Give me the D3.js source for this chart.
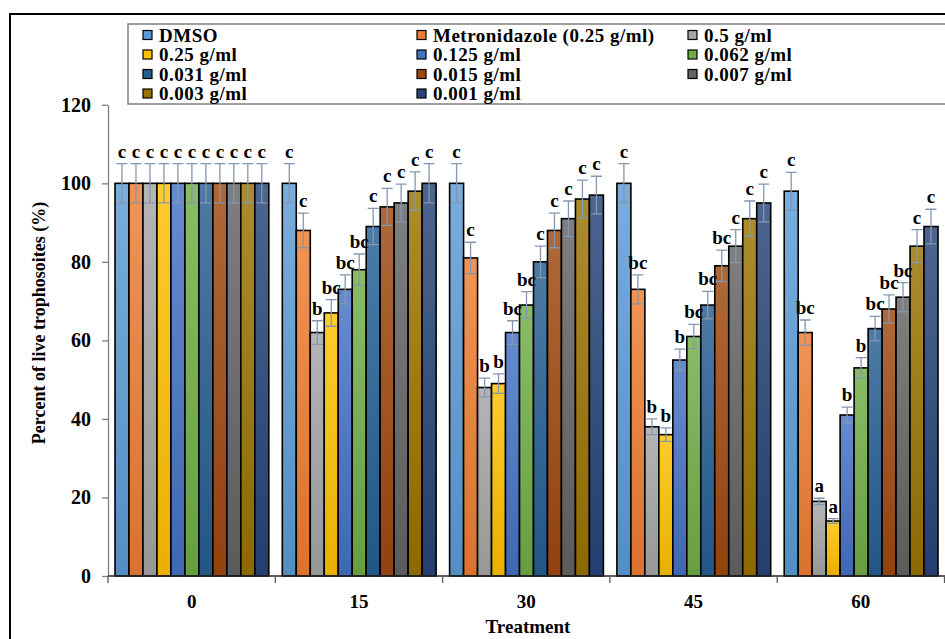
<!DOCTYPE html>
<html>
<head>
<meta charset="utf-8">
<script src="https://cdn.jsdelivr.net/npm/d3@7"></script>
<style>
  body { margin: 0; background: #fff; }
  svg { display: block; }
  text { font-family: "Liberation Serif", "Times New Roman", serif; font-weight: bold; fill: #000; }
</style>
</head>
<body>
<svg id="chart" width="945" height="639"></svg>
<script>
var categories = ["0", "15", "30", "45", "60"];
var series = ["DMSO", "Metronidazole (0.25 g/ml)", "0.5 g/ml", "0.25 g/ml", "0.125 g/ml",
  "0.062 g/ml", "0.031 g/ml", "0.015 g/ml", "0.007 g/ml", "0.003 g/ml", "0.001 g/ml"];
var colors = ["#5b9bd5", "#ed7d31", "#a5a5a5", "#ffc000", "#4472c4", "#70ad47",
  "#255e91", "#9e480e", "#636363", "#997300", "#264478"];

// one row per series, one value per treatment time
var values = [
  [100, 100, 100, 100, 98],
  [100, 88, 81, 73, 62],
  [100, 62, 48, 38, 19],
  [100, 67, 49, 36, 14],
  [100, 73, 62, 55, 41],
  [100, 78, 69, 61, 53],
  [100, 89, 80, 69, 63],
  [100, 94, 88, 79, 68],
  [100, 95, 91, 84, 71],
  [100, 98, 96, 91, 84],
  [100, 100, 97, 95, 89]
];
var errors = [
  [5, 5, 5, 5, 4.8],
  [5, 4.4, 4, 3.7, 3.2],
  [5, 3, 2.4, 2, 0.8],
  [5, 3.4, 2.5, 1.7, 0.6],
  [5, 3.7, 3, 2.8, 2],
  [5, 4, 3.4, 3.1, 2.6],
  [5, 4.6, 4, 3.5, 3.1],
  [5, 4.7, 4.4, 4, 3.6],
  [5, 4.8, 4.5, 4.2, 3.7],
  [5, 4.9, 4.8, 4.5, 4.2],
  [5, 5, 4.8, 4.8, 4.4]
];
var letters = [
  ["c", "c", "c", "c", "c"],
  ["c", "c", "c", "bc", "bc"],
  ["c", "b", "b", "b", "a"],
  ["c", "bc", "b", "b", "a"],
  ["c", "bc", "bc", "b", "b"],
  ["c", "bc", "bc", "bc", "b"],
  ["c", "c", "c", "bc", "bc"],
  ["c", "c", "c", "bc", "bc"],
  ["c", "c", "c", "c", "bc"],
  ["c", "c", "c", "c", "c"],
  ["c", "c", "c", "c", "c"]
];
var yTicks = [0, 20, 40, 60, 80, 100, 120];

var svg = d3.select("#chart");

var x0 = d3.scaleBand().domain(categories).range([108, 944.5]);
var x1 = d3.scaleBand().domain(d3.range(series.length)).range([7, x0.bandwidth() - 6.5]);
var y = d3.scaleLinear().domain([0, 120]).range([576, 104.8]);

// gradients, light at top
var defs = svg.append("defs");
colors.forEach(function(c, i) {
  var g = defs.append("linearGradient").attr("id", "g" + i)
    .attr("x1", 0).attr("y1", 0).attr("x2", 0).attr("y2", 1);
  g.append("stop").attr("offset", "0%").attr("stop-color", d3.interpolateRgb(c, "#fff")(0.18));
  g.append("stop").attr("offset", "100%").attr("stop-color", d3.color(c).darker(0.25));
});

// outer frame
svg.append("path").attr("d", "M10,639V14H945")
  .attr("fill", "none").attr("stroke", "#000").attr("stroke-width", 2);

// y axis
var yAxis = svg.append("g").attr("transform", "translate(108,0)")
  .call(d3.axisLeft(y).tickValues(yTicks).tickSize(6).tickPadding(11).tickSizeOuter(0));
yAxis.select(".domain").attr("stroke", "#7f7f7f").attr("stroke-width", 1.3);
yAxis.selectAll(".tick line").attr("stroke", "#7f7f7f").attr("stroke-width", 1.3);
yAxis.selectAll(".tick text").attr("font-size", 20)
  .style("font-family", "Liberation Serif").style("font-weight", "bold").attr("fill", "#000");

// bars
var rows = [];
series.forEach(function(s, i) {
  categories.forEach(function(c, j) {
    rows.push({ s: i, c: c, v: values[i][j], e: errors[i][j], l: letters[i][j] });
  });
});

svg.append("g").selectAll("rect").data(rows).enter().append("rect")
  .attr("x", function(d) { return x0(d.c) + x1(d.s); })
  .attr("y", function(d) { return y(d.v); })
  .attr("width", x1.bandwidth())
  .attr("height", function(d) { return y(0) - y(d.v); })
  .attr("fill", function(d) { return "url(#g" + d.s + ")"; })
  .attr("stroke", "#000").attr("stroke-width", 1.6);

// error bars
var eb = svg.append("g").attr("stroke", "#8497b0").attr("stroke-width", 1.3).attr("fill", "none");
eb.selectAll("path").data(rows).enter().append("path")
  .attr("d", function(d) {
    var cx = x0(d.c) + x1(d.s) + x1.bandwidth() / 2;
    var t = y(d.v + d.e), b = y(d.v - d.e);
    return "M" + (cx - 5.5) + "," + t + "H" + (cx + 5.5) +
      "M" + cx + "," + t + "V" + b +
      "M" + (cx - 5.5) + "," + b + "H" + (cx + 5.5);
  });

// significance letters
svg.append("g").selectAll("text").data(rows).enter().append("text")
  .attr("x", function(d) { return x0(d.c) + x1(d.s) + x1.bandwidth() / 2; })
  .attr("y", function(d) { return y(d.v + d.e) - 6; })
  .attr("text-anchor", "middle").attr("font-size", 19)
  .text(function(d) { return d.l; });

// x axis
svg.append("line").attr("x1", 108).attr("x2", 945).attr("y1", y(0)).attr("y2", y(0))
  .attr("stroke", "#262626").attr("stroke-width", 1.6);
var edges = categories.map(function(c) { return x0(c); }).concat([x0.range()[1]]);
svg.append("g").selectAll("line").data(edges).enter().append("line")
  .attr("x1", function(d) { return d; }).attr("x2", function(d) { return d; })
  .attr("y1", y(0)).attr("y2", y(0) + 7)
  .attr("stroke", "#595959").attr("stroke-width", 1.3);
svg.append("g").selectAll("text").data(categories).enter().append("text")
  .attr("x", function(d) { return x0(d) + x0.bandwidth() / 2; })
  .attr("y", 608).attr("text-anchor", "middle").attr("font-size", 19)
  .text(function(d) { return d; });

// axis titles
svg.append("text").attr("x", 528).attr("y", 633).attr("text-anchor", "middle")
  .attr("font-size", 19).text("Treatment");
svg.append("text").attr("transform", "translate(45,323) rotate(-90)")
  .attr("text-anchor", "middle").attr("font-size", 18)
  .text("Percent of live trophosoites (%)");

// legend
svg.append("rect").attr("x", 128).attr("y", 24).attr("width", 830).attr("height", 80)
  .attr("fill", "#fff").attr("stroke", "#7f7f7f").attr("stroke-width", 1.5);
var colX = [143, 417, 688];
var lg = svg.append("g").selectAll("g").data(series).enter().append("g")
  .attr("transform", function(d, i) {
    return "translate(" + colX[i % 3] + "," + (35 + Math.floor(i / 3) * 19.5) + ")";
  });
lg.append("rect").attr("x", 0).attr("y", -4.5).attr("width", 9).attr("height", 9)
  .attr("fill", function(d, i) { return colors[i]; })
  .attr("stroke", "#000").attr("stroke-width", 1.2);
lg.append("text").attr("x", 16).attr("y", 6.5).attr("font-size", 19)
  .attr("letter-spacing", 0.5)
  .text(function(d) { return d; });
</script>
</body>
</html>
